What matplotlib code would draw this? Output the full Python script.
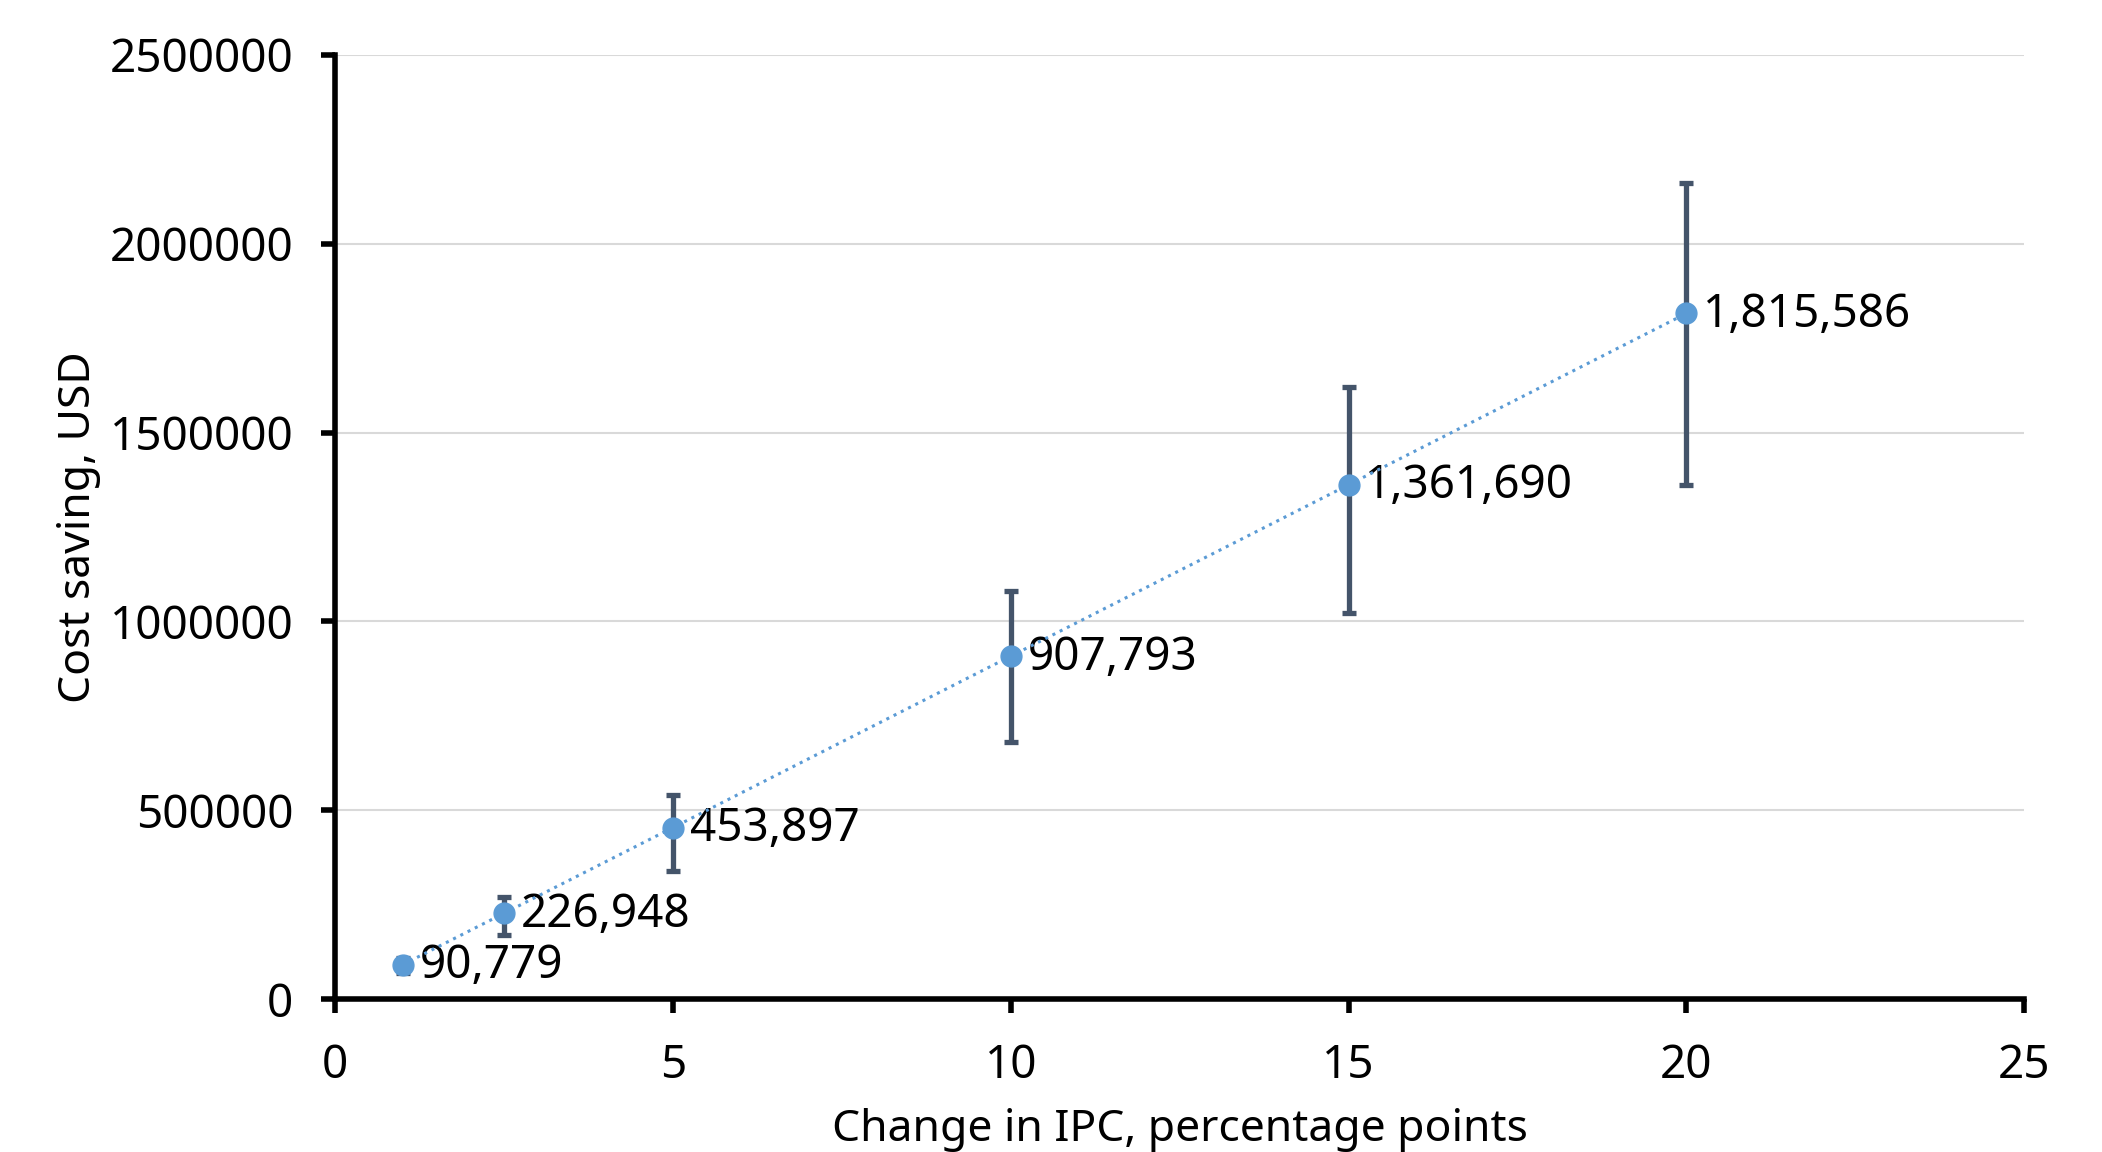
import matplotlib
matplotlib.use("Agg")
import matplotlib.pyplot as plt

plt.rcParams['font.family'] = ['Noto Sans', 'DejaVu Sans']

ipc_change = [1, 2.5, 5, 10, 15, 20]
cost_saving = [90779, 226948, 453897, 907793, 1361690, 1815586]
upper_bound = [108000, 270000, 540000, 1080000, 1620000, 2160000]
lower_bound = [68000, 170000, 340000, 681000, 1021000, 1362000]
labels = ["90,779", "226,948", "453,897", "907,793", "1,361,690", "1,815,586"]
x_ticks = [0, 5, 10, 15, 20, 25]
y_ticks = [0, 500000, 1000000, 1500000, 2000000, 2500000]

if __name__ == "__main__":
    fig = plt.figure(figsize=(21.02, 11.52), dpi=100)
    ax = fig.add_axes([0.1594, 0.1328, 0.8036, 0.8195])

    err_low = [v - lo for v, lo in zip(cost_saving, lower_bound)]
    err_high = [hi - v for v, hi in zip(cost_saving, upper_bound)]
    ax.errorbar(ipc_change, cost_saving, yerr=[err_low, err_high], fmt='none',
                ecolor='#44546a', elinewidth=3.8, capsize=5, capthick=3.8, zorder=3)
    ax.plot(ipc_change, cost_saving, linestyle=':', linewidth=2.2, color='#5b9bd5',
            marker='o', markersize=15, zorder=4)

    for x, y, t in zip(ipc_change, cost_saving, labels):
        ax.annotate(t, (x, y), xytext=(12, -1), textcoords='offset points',
                    ha='left', va='center', fontsize=33, color='black')

    ax.set_xlim(0, 25)
    ax.set_ylim(0, 2500000)
    ax.set_xticks(x_ticks)
    ax.set_yticks(y_ticks)
    ax.set_yticklabels([str(v) for v in y_ticks])
    ax.tick_params(axis='both', labelsize=33, length=10, width=4, direction='out')
    ax.tick_params(axis='x', pad=22)
    ax.tick_params(axis='y', pad=20)
    ax.grid(axis='y', color='#d9d9d9', linewidth=1.5)
    ax.set_axisbelow(True)
    for s in ['top', 'right']:
        ax.spines[s].set_visible(False)
    for s in ['left', 'bottom']:
        ax.spines[s].set_linewidth(4)
    ax.set_xlabel("Change in IPC, percentage points", fontsize=32, labelpad=13)
    ax.set_ylabel("Cost saving, USD", fontsize=32, labelpad=6)

    fig.savefig("out.png", dpi=100)
